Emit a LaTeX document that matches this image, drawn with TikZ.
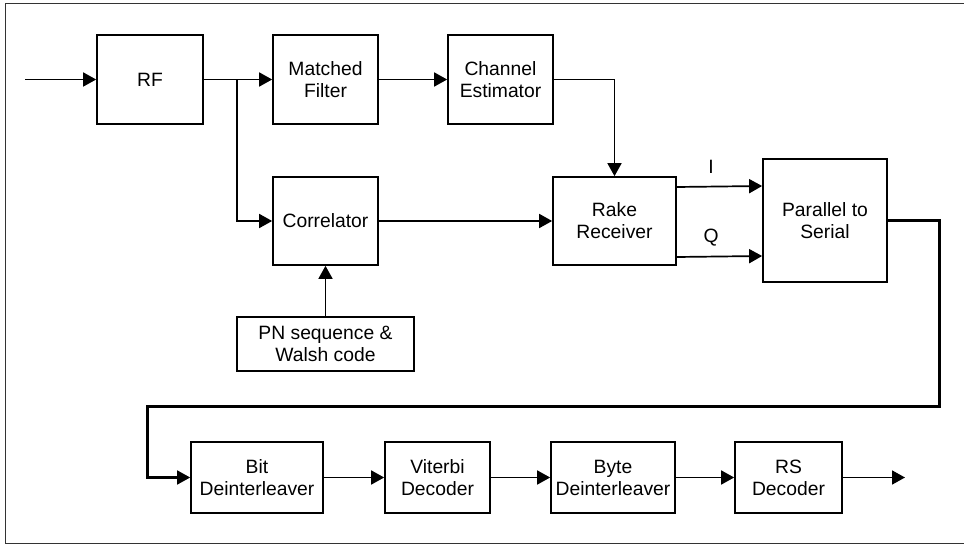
\documentclass[tikz,border=0pt]{standalone}
\usepackage{fontspec}
\setmainfont{Liberation Sans}
\usetikzlibrary{arrows.meta}
\begin{document}
\begin{tikzpicture}[x=1pt,y=-1pt,
  blk/.style={draw,line width=1.7pt,rectangle,inner sep=0pt,align=center,
    font=\fontsize{19.3}{22}\selectfont},
  link/.style={line width=1.7pt,-{Triangle[length=13pt,width=14pt]}},
  wire/.style={line width=1.7pt},
  heavy/.style={line width=3pt},
  lbl/.style={inner sep=0pt,font=\fontsize{19.3}{22}\selectfont}]
\useasboundingbox (0,0) rectangle (964,545);
% outer frame (open on the right)
\draw[line width=1pt,black!80] (964,3.5) -- (5,3.5) -- (5,543) -- (964,543);

% top row
\node[blk,minimum width=106pt,minimum height=89pt] (rf) at (150,79.5) {RF};
\node[blk,minimum width=105pt,minimum height=89pt] (mf) at (325.5,79.5) {Matched\\Filter};
\node[blk,minimum width=105pt,minimum height=89pt] (ce) at (500.5,79.5) {Channel\\Estimator};
% middle row
\node[blk,minimum width=105pt,minimum height=88pt] (corr) at (325.5,221) {Correlator};
\node[blk,minimum width=177pt,minimum height=54pt] (pn) at (325.5,344) {PN sequence \&\\Walsh code};
\node[blk,minimum width=123pt,minimum height=88pt] (rake) at (614.5,221) {Rake\\Receiver};
\node[blk,minimum width=124pt,minimum height=123pt] (ps) at (825,220.5) {Parallel to\\Serial};
% bottom row
\node[blk,minimum width=132pt,minimum height=71pt] (bit) at (257,477.5) {Bit\\Deinterleaver};
\node[blk,minimum width=105pt,minimum height=71pt] (vit) at (437.5,477.5) {Viterbi\\Decoder};
\node[blk,minimum width=124pt,minimum height=71pt] (byte) at (613,477.5) {Byte\\Deinterleaver};
\node[blk,minimum width=107pt,minimum height=71pt] (rs) at (788.5,477.5) {RS\\Decoder};

% free ends and bends
\coordinate (in) at (25,79.5);
\coordinate (out) at (905,477.5);
\coordinate (br) at (237,79.5);
\coordinate (ce1) at (614.5,79.5);
\coordinate (p1) at (939,220.5);
\coordinate (p2) at (939,406);
\coordinate (p3) at (147,406);

% connectors
\draw[link] (in) -- (rf.west);
\draw[link] (rf.east) -- (mf.west);
\draw[link] (br) |- (corr.west);
\draw[link] (mf.east) -- (ce.west);
\draw[wire] (ce.east) -- (ce1);
\draw[link] (ce1) -- (rake.north);
\draw[link] (pn.north) -- (corr.south);
\draw[link] (corr.east) -- (rake.west);
\draw[link] ([yshift=-36pt]rake.east) -- ([yshift=-35.5pt]ps.west);
\draw[link] ([yshift=34pt]rake.east) -- ([yshift=34.5pt]ps.west);
\node[lbl] (li) at (711,167) {I};
\node[lbl] (lq) at (711,238) {Q};
\draw[heavy] (ps.east) -- (p1) -- (p2) -- (p3) -- (p3 |- bit.west) -- ([xshift=-11pt]bit.west);
\draw[link] ([xshift=-13pt]bit.west) -- (bit.west);
\draw[link] (bit.east) -- (vit.west);
\draw[link] (vit.east) -- (byte.west);
\draw[link] (byte.east) -- (rs.west);
\draw[link] (rs.east) -- (out);
\end{tikzpicture}
\end{document}
